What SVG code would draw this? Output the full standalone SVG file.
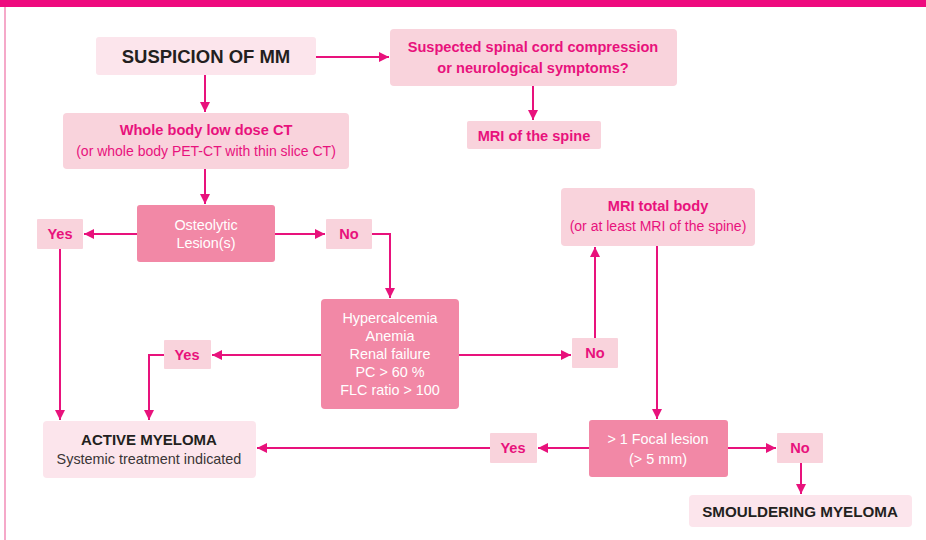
<svg xmlns="http://www.w3.org/2000/svg" width="926" height="540" viewBox="0 0 926 540">
<defs>
<style>
.lt{fill:#fce5ec}
.md{fill:#f9d3dc}
.dk{fill:#f288a6}
.tb{font-family:"Liberation Sans",Arial,sans-serif;font-weight:bold;fill:#231f20;text-anchor:middle}
.tm{font-family:"Liberation Sans",Arial,sans-serif;font-size:14px;fill:#e8127c;text-anchor:middle}
.tw{font-family:"Liberation Sans",Arial,sans-serif;font-size:14.4px;fill:#ffffff;text-anchor:middle}
.b{font-weight:bold;font-size:14.6px}
.c{fill:none;stroke:#e8127c;stroke-width:2}
</style>
<marker id="ah" markerUnits="userSpaceOnUse" markerWidth="10" markerHeight="10" refX="10" refY="5" orient="auto">
<path d="M0,0 L10,5 L0,10 z" fill="#e8127c"/>
</marker>
</defs>
<rect x="0" y="0" width="926" height="540" fill="#ffffff"/>
<rect x="0" y="0" width="926" height="7" fill="#ee0a7e"/>
<rect x="4" y="7" width="2" height="533" fill="#f5a9c9"/>

<g id="connectors">
<path class="c" d="M316,57 H389" marker-end="url(#ah)"/>
<path class="c" d="M533,86 V120" marker-end="url(#ah)"/>
<path class="c" d="M205,75 V112" marker-end="url(#ah)"/>
<path class="c" d="M205,169 V204" marker-end="url(#ah)"/>
<path class="c" d="M137,234 H84" marker-end="url(#ah)"/>
<path class="c" d="M275,234 H325" marker-end="url(#ah)"/>
<path class="c" d="M372,234 H390 V298" marker-end="url(#ah)"/>
<path class="c" d="M60,249 V420" marker-end="url(#ah)"/>
<path class="c" d="M321,355 H212" marker-end="url(#ah)"/>
<path class="c" d="M164,355 H149 V420" marker-end="url(#ah)"/>
<path class="c" d="M459,355 H571" marker-end="url(#ah)"/>
<path class="c" d="M595,338 V247" marker-end="url(#ah)"/>
<path class="c" d="M657,246 V419" marker-end="url(#ah)"/>
<path class="c" d="M589,448 H538" marker-end="url(#ah)"/>
<path class="c" d="M490,448 H257" marker-end="url(#ah)"/>
<path class="c" d="M728,448 H776" marker-end="url(#ah)"/>
<path class="c" d="M801,463 V494" marker-end="url(#ah)"/>
</g>

<g id="suspicion">
<rect class="lt" x="96" y="37" width="220" height="38" rx="3"/>
<text class="tb" x="206" y="63" font-size="18.5">SUSPICION OF MM</text>
</g>
<g id="spinal">
<rect class="md" x="390" y="29" width="287" height="57" rx="4"/>
<text class="tm b" x="533" y="52">Suspected spinal cord compression</text>
<text class="tm b" x="533" y="73">or neurological symptoms?</text>
</g>
<g id="mri-spine">
<rect class="md" x="467" y="121" width="134" height="28" rx="2"/>
<text class="tm b" x="534" y="141">MRI of the spine</text>
</g>
<g id="whole-body">
<rect class="md" x="63" y="113" width="286" height="56" rx="4"/>
<text class="tm b" x="206" y="135">Whole body low dose CT</text>
<text class="tm" x="206" y="156">(or whole body PET-CT with thin slice CT)</text>
</g>
<g id="osteolytic">
<rect class="dk" x="137" y="205" width="138" height="57" rx="3"/>
<text class="tw" x="206" y="230">Osteolytic</text>
<text class="tw" x="206" y="248">Lesion(s)</text>
</g>
<g id="yes1">
<rect class="md" x="37" y="219" width="46" height="30" rx="1"/>
<text class="tm b" x="60" y="239">Yes</text>
</g>
<g id="no1">
<rect class="md" x="326" y="219" width="46" height="30" rx="1"/>
<text class="tm b" x="349" y="239">No</text>
</g>
<g id="criteria">
<rect class="dk" x="321" y="299" width="138" height="110" rx="4"/>
<text class="tw" x="390" y="323">Hypercalcemia</text>
<text class="tw" x="390" y="341">Anemia</text>
<text class="tw" x="390" y="359">Renal failure</text>
<text class="tw" x="390" y="377">PC &gt; 60 %</text>
<text class="tw" x="390" y="395">FLC ratio &gt; 100</text>
</g>
<g id="yes2">
<rect class="md" x="164" y="340" width="47" height="29" rx="1"/>
<text class="tm b" x="187" y="360">Yes</text>
</g>
<g id="no2">
<rect class="md" x="572" y="338" width="46" height="30" rx="1"/>
<text class="tm b" x="595" y="358">No</text>
</g>
<g id="mri-total">
<rect class="md" x="561" y="188" width="194" height="58" rx="4"/>
<text class="tm b" x="658" y="211">MRI total body</text>
<text class="tm" x="658" y="231">(or at least MRI of the spine)</text>
</g>
<g id="focal">
<rect class="dk" x="589" y="420" width="139" height="57" rx="3"/>
<text class="tw" x="658" y="444">&gt; 1 Focal lesion</text>
<text class="tw" x="658" y="464">(&gt; 5 mm)</text>
</g>
<g id="yes3">
<rect class="md" x="490" y="433" width="47" height="30" rx="1"/>
<text class="tm b" x="513" y="453">Yes</text>
</g>
<g id="no3">
<rect class="md" x="777" y="433" width="46" height="30" rx="1"/>
<text class="tm b" x="800" y="453">No</text>
</g>
<g id="active">
<rect class="lt" x="43" y="421" width="213" height="57" rx="4"/>
<text class="tb" x="149" y="445" font-size="15">ACTIVE MYELOMA</text>
<text class="tb" x="149" y="464" font-size="14.4" style="font-weight:normal;fill:#3a3536">Systemic treatment indicated</text>
</g>
<g id="smouldering">
<rect class="lt" x="689" y="495" width="223" height="32" rx="4"/>
<text class="tb" x="800" y="517" font-size="15.2">SMOULDERING MYELOMA</text>
</g>
</svg>
